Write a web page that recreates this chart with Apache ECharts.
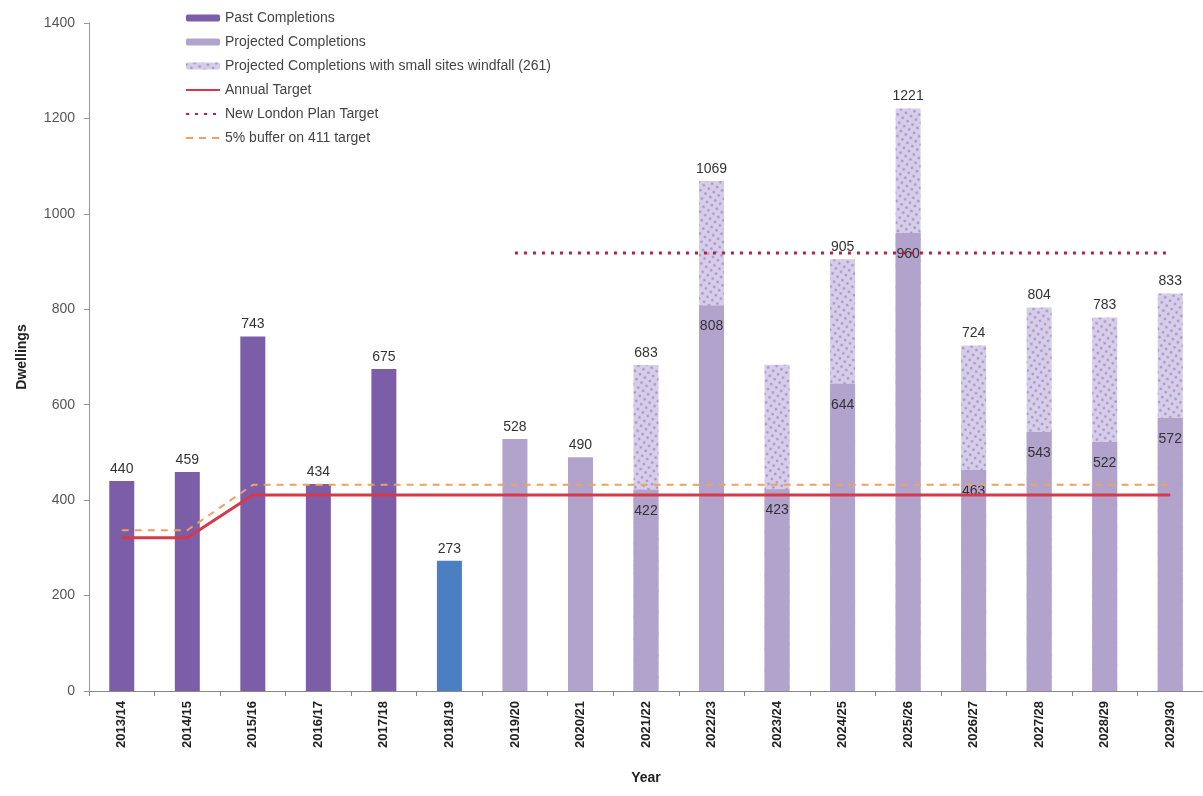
<!DOCTYPE html>
<html>
<head>
<meta charset="utf-8">
<script src="https://cdn.jsdelivr.net/npm/echarts@6/dist/echarts.min.js"></script>
<style>
html,body{margin:0;padding:0;background:#fff;}
#chart{width:1203px;height:796px;}
</style>
</head>
<body>
<div id="chart"></div>
<script>
const categories = ['2013/14','2014/15','2015/16','2016/17','2017/18','2018/19','2019/20','2020/21','2021/22','2022/23','2023/24','2024/25','2025/26','2026/27','2027/28','2028/29','2029/30'];
const pastCompletions = [440, 459, 743, 434, 675, 273, null, null, null, null, null, null, null, null, null, null, null];
const projectedCompletions = [null, null, null, null, null, null, 528, 490, 422, 808, 423, 644, 960, 463, 543, 522, 572];
const windfallTotals = [null, null, null, null, null, null, null, null, 683, 1069, 684, 905, 1221, 724, 804, 783, 833];
const annualTarget = [321, 321, 411, 411, 411, 411, 411, 411, 411, 411, 411, 411, 411, 411, 411, 411, 411];
const londonPlanTarget = [null, null, null, null, null, null, 918, 918, 918, 918, 918, 918, 918, 918, 918, 918, 918];
const bufferTarget = [337, 337, 432, 432, 432, 432, 432, 432, 432, 432, 432, 432, 432, 432, 432, 432, 432];
const yTicks = [0, 200, 400, 600, 800, 1000, 1200, 1400];

const FONT = 'Liberation Sans, Arial, sans-serif';
const pastColor = '#7b5ea7';
const blueColor = '#4a7fc1';
const projColor = '#b2a3cd';

const pastData = pastCompletions.map((v, i) => v == null ? null :
  (categories[i] === '2018/19' ? {value: v, itemStyle: {color: blueColor}} : v));

const projData = projectedCompletions.map((v, i) => {
  if (v == null) return null;
  const hasWind = windfallTotals[i] != null;
  return {value: v, label: hasWind ? {position: 'insideTop', distance: 14} : {position: 'top'}};
});

const windData = windfallTotals.map((v, i) => {
  if (v == null) return null;
  return categories[i] === '2023/24' ? {value: v, label: {show: false}} : v;
});

const hideSym = {opacity: 0};

const chart = echarts.init(document.getElementById('chart'));
chart.setOption({
  animation: false,
  textStyle: {fontFamily: FONT},
  legend: {
    orient: 'vertical',
    left: 180,
    top: 6,
    itemGap: 10,
    itemWidth: 34,
    itemHeight: 7,
    textStyle: {fontSize: 14, color: '#444', fontFamily: FONT},
    data: [
      {name: 'Past Completions'},
      {name: 'Projected Completions'},
      {name: 'Projected Completions with small sites windfall (261)'},
      {name: 'Annual Target', itemStyle: hideSym},
      {name: 'New London Plan Target', itemStyle: hideSym},
      {name: '5% buffer on 411 target', itemStyle: hideSym}
    ]
  },
  grid: {left: 89, right: 0, top: 23, bottom: 105},
  xAxis: {
    type: 'category',
    data: categories,
    name: 'Year',
    nameLocation: 'middle',
    nameGap: 80,
    nameTextStyle: {fontSize: 14, fontWeight: 'bold', color: '#222'},
    axisLine: {lineStyle: {color: '#888'}},
    axisTick: {show: true, alignWithLabel: false, lineStyle: {color: '#888'}},
    axisLabel: {rotate: 90, fontSize: 13, fontWeight: 'bold', color: '#222', interval: 0, margin: 10}
  },
  yAxis: {
    type: 'value',
    min: 0,
    max: 1400,
    interval: 200,
    name: 'Dwellings',
    nameLocation: 'middle',
    nameGap: 60,
    nameTextStyle: {fontSize: 14, fontWeight: 'bold', color: '#222'},
    axisLine: {show: true, lineStyle: {color: '#999'}},
    axisTick: {show: true, lineStyle: {color: '#999'}},
    splitLine: {show: false},
    axisLabel: {fontSize: 14, color: '#555', margin: 14,
      formatter: v => yTicks.includes(v) ? String(v) : ''}
  },
  series: [
    {
      name: 'Past Completions', type: 'bar', data: pastData, barWidth: 25,
      itemStyle: {color: pastColor},
      label: {show: true, position: 'top', fontSize: 14, color: '#333'},
      z: 3
    },
    {
      name: 'Projected Completions with small sites windfall (261)', type: 'bar', data: windData, barWidth: 25, barGap: '-100%',
      itemStyle: {color: '#d6cde9', decal: {symbol: 'circle', symbolSize: 0.8, color: 'rgba(120,100,170,0.6)', dashArrayX: 3, dashArrayY: 3, rotation: 0.6}},
      label: {show: true, position: 'top', fontSize: 14, color: '#333'},
      z: 2
    },
    {
      name: 'Projected Completions', type: 'bar', data: projData, barWidth: 25, barGap: '-100%',
      itemStyle: {color: projColor},
      label: {show: true, position: 'top', fontSize: 14, color: '#333'},
      z: 4
    },
    {
      name: 'Annual Target', type: 'line', data: annualTarget, symbol: 'none', showSymbol: false,
      lineStyle: {color: '#d63a4a', width: 3}, itemStyle: {color: '#d63a4a'}, z: 6
    },
    {
      name: 'New London Plan Target', type: 'line', data: londonPlanTarget, symbol: 'none', showSymbol: false,
      lineStyle: {color: '#b0204a', width: 3, type: [3, 6]}, itemStyle: {color: '#b0204a'}, z: 6
    },
    {
      name: '5% buffer on 411 target', type: 'line', data: bufferTarget, symbol: 'none', showSymbol: false,
      lineStyle: {color: '#f0a060', width: 2, type: [7, 6]}, itemStyle: {color: '#f0a060'}, z: 5
    }
  ]
});
</script>
</body>
</html>
